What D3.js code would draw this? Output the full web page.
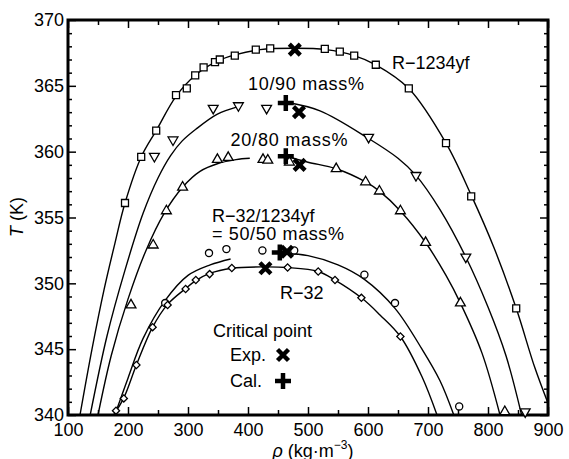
<!DOCTYPE html>
<html><head><meta charset="utf-8">
<script src="https://cdn.jsdelivr.net/npm/d3@7"></script>
<style>body{margin:0;background:#fff}svg{display:block}text{font-family:"Liberation Sans",Arial,sans-serif;fill:#000}</style>
</head><body><svg id="c" width="569" height="459"></svg>
<script>
// ---- data ----
const xTicks = [100,200,300,400,500,600,700,800,900];
const yTicks = [340,345,350,355,360,365,370];
// experimental saturation points [rho, T]
const r1234yfPts = [[195,356.1],[222,359.6],[247,361.6],[280,364.3],[298,364.8],[312,365.8],[326,366.4],[345,366.8],[353,367.0],[378,367.3],[413,367.75],[437,367.85],[528,367.8],[553,367.6],[577,367.3],[613,366.6],[668,364.8],[730,360.65],[772,356.6],[847,348.1]];
const m1090Pts = [[244,359.65],[275,360.9],[342,363.3],[384,363.5],[431,363.3],[601,361.1],[680,358.2],[763,352.0],[862,340.25]];
const m2080Pts = [[205,348.35],[242,352.9],[264,355.5],[291,357.3],[349,359.4],[367,359.55],[425,359.4],[433,359.35],[469,359.2],[547,358.7],[596,357.7],[619,357.0],[654,355.5],[696,353.1],[754,348.5],[828,340.25]];
const m5050Pts = [[262,348.5],[335,352.3],[364,352.6],[424,352.5],[477,352.5],[594,350.66],[645,348.5],[752,340.65]];
const r32Pts = [[180,340.33],[193,341.26],[214,343.8],[241,346.67],[266,348.35],[296,349.57],[313,350.25],[336,350.7],[373,351.16],[466,351.2],[517,350.9],[545,350.25],[589,348.9],[654,345.96]];
// calculated saturation curves [rho, T]
const r1234yfCurve = [[120,340],[140,345],[160,349.5],[178,353],[195,356.1],[222,359.6],[247,361.6],[280,364.2],[312,365.8],[345,366.8],[378,367.35],[420,367.75],[478,367.85],[530,367.75],[577,367.3],[613,366.6],[668,364.8],[730,360.65],[772,356.7],[810,352.7],[847,348.1],[878,343.6],[900,340.9]];
const m1090Vap = [[137,340],[165,346],[195,351],[225,355.3],[250,358],[271,359.7],[290,360.8],[313,361.7],[349,362.85],[382,363.4]];
const m1090Liq = [[464,363.75],[520,363.1],[601,361.0],[650,359.5],[680,358.2],[720,355.6],[763,352.0],[800,348.2],[830,344.5],[856,340]];
const m2080Vap = [[150,340],[172,344.5],[200,348.8],[230,352.5],[260,355.3],[291,357.3],[320,358.5],[350,359.1],[380,359.4],[403,359.5]];
const m2080Liq = [[463,359.65],[500,359.2],[547,358.7],[596,357.7],[619,357.0],[654,355.5],[696,353.1],[730,350.6],[754,348.5],[790,344.7],[820,340]];
const m5050Vap = [[178,340],[200,342.8],[225,345.8],[262,348.7],[300,350.6],[337,351.4],[371,351.85]];
const m5050Liq = [[454,352.3],[500,352.1],[550,351.4],[594,350.3],[645,348.1],[690,345.0],[720,342.6],[743,340]];
const r32Curve = [[176,340],[193,341.3],[214,343.8],[241,346.67],[266,348.4],[296,349.6],[313,350.2],[336,350.75],[373,351.15],[428,351.25],[466,351.2],[517,350.9],[545,350.25],[589,348.9],[620,347.6],[654,345.96],[690,342.9],[715,340]];
// critical points
const expCrit = [[478,367.75],[485,363.0],[486,359.0],[465,352.4],[429,351.15]];
const calCrit = [[463,363.7],[463,359.65],[453,352.35]];

// ---- drawing ----
const svg = d3.select("#c");
const L=68,R=548,T=20,B=415;
const x = d3.scaleLinear().domain([100,900]).range([L,R]);
const y = d3.scaleLinear().domain([340,370]).range([B,T]);

svg.append("clipPath").attr("id","clip").append("rect").attr("x",L).attr("y",T).attr("width",R-L).attr("height",B-T);

const line = d3.line().x(d=>x(d[0])).y(d=>y(d[1])).curve(d3.curveCatmullRom.alpha(0.5));
const curves = svg.append("g").attr("clip-path","url(#clip)");
[r1234yfCurve,m1090Vap,m1090Liq,m2080Vap,m2080Liq,m5050Vap,m5050Liq,r32Curve].forEach(c=>{
  curves.append("path").attr("d",line(c)).attr("fill","none").attr("stroke","#000").attr("stroke-width",1.4);
});

// axes
const fs = 18;
function styleAxis(g){ g.select(".domain").remove(); g.selectAll("line").attr("stroke","#000").attr("stroke-width",1.5); g.selectAll("text").style("font-size",fs+"px").attr("fill","#000"); }
const minorX = d3.range(150,900,100);
const minorY = d3.range(340,371,1).filter(v=>v%5!==0);
svg.append("g").attr("transform",`translate(0,${B})`).call(d3.axisBottom(x).tickValues(xTicks).tickSize(-8).tickPadding(8).tickFormat(d3.format("d"))).call(styleAxis);
svg.append("g").attr("transform",`translate(0,${B})`).call(d3.axisBottom(x).tickValues(minorX).tickSize(-5).tickFormat("")).call(styleAxis);
svg.append("g").attr("transform",`translate(0,${T})`).call(d3.axisTop(x).tickValues(xTicks).tickSize(-8).tickFormat("")).call(styleAxis);
svg.append("g").attr("transform",`translate(0,${T})`).call(d3.axisTop(x).tickValues(minorX).tickSize(-5).tickFormat("")).call(styleAxis);
svg.append("g").attr("transform",`translate(${L},0)`).call(d3.axisLeft(y).tickValues(yTicks).tickSize(-8).tickPadding(4).tickFormat(d3.format("d"))).call(styleAxis);
svg.append("g").attr("transform",`translate(${L},0)`).call(d3.axisLeft(y).tickValues(minorY).tickSize(-4).tickFormat("")).call(styleAxis);
svg.append("g").attr("transform",`translate(${R},0)`).call(d3.axisRight(y).tickValues(yTicks).tickSize(-8).tickFormat("")).call(styleAxis);
svg.append("g").attr("transform",`translate(${R},0)`).call(d3.axisRight(y).tickValues(minorY).tickSize(-4).tickFormat("")).call(styleAxis);
svg.append("rect").attr("x",L).attr("y",T).attr("width",R-L).attr("height",B-T).attr("fill","none").attr("stroke","#000").attr("stroke-width",3);

// markers
const mk = svg.append("g");
function sym(pts,type,size,rot){
  mk.selectAll(null).data(pts).enter().append("path")
    .attr("d",d3.symbol().type(type).size(size))
    .attr("transform",d=>`translate(${x(d[0])},${y(d[1])}) rotate(${rot||0})`)
    .attr("fill","#fff").attr("stroke","#000").attr("stroke-width",1.3);
}
sym(r1234yfPts,d3.symbolSquare,49);
sym(m1090Pts,d3.symbolTriangle,42,180);
sym(m2080Pts,d3.symbolTriangle,42,0);
sym(m5050Pts,d3.symbolCircle,40);
sym(r32Pts,d3.symbolSquare,26,45);

function xMark(g,cx,cy){ const s=5.5; g.append("path").attr("d",`M${cx-s},${cy-s}L${cx+s},${cy+s}M${cx-s},${cy+s}L${cx+s},${cy-s}`).attr("stroke","#000").attr("stroke-width",4.4).attr("fill","none"); }
function pMark(g,cx,cy){ const s=8; g.append("path").attr("d",`M${cx-s},${cy}L${cx+s},${cy}M${cx},${cy-s}L${cx},${cy+s}`).attr("stroke","#000").attr("stroke-width",4.5).attr("fill","none"); }
calCrit.forEach(d=>pMark(mk,x(d[0]),y(d[1])));
expCrit.forEach(d=>xMark(mk,x(d[0]),y(d[1])));

// labels
function lab(t,px,py,anchor){ return svg.append("text").attr("x",px).attr("y",py).attr("text-anchor",anchor||"start").style("font-size","18px").text(t); }
lab("R\u22121234yf",392,69);
lab("10/90 mass%",306,90,"middle").attr("textLength",116);
lab("20/80 mass%",289,146,"middle").attr("textLength",117);
lab("R\u221232/1234yf",212,222);
lab("= 50/50 mass%",212,240).attr("textLength",132);
lab("R\u221232",280,299);
lab("Critical point",213,337);
lab("Exp.",230,361);
lab("Cal.",230,387);
xMark(svg,283,355);
pMark(svg,283,381);

// axis titles
const yt = svg.append("text").attr("transform","translate(23,217) rotate(-90)").attr("text-anchor","middle").style("font-size","18px");
yt.append("tspan").style("font-style","italic").text("T");
yt.append("tspan").text(" (K)");
const xt = svg.append("text").attr("x",313).attr("y",457).attr("text-anchor","middle").style("font-size","18px");
xt.append("tspan").style("font-style","italic").text("\u03c1");
xt.append("tspan").text(" (kg\u00b7m");
xt.append("tspan").attr("dy",-8).style("font-size","12px").text("\u22123");
xt.append("tspan").attr("dy",8).text(")");
</script></body></html>
